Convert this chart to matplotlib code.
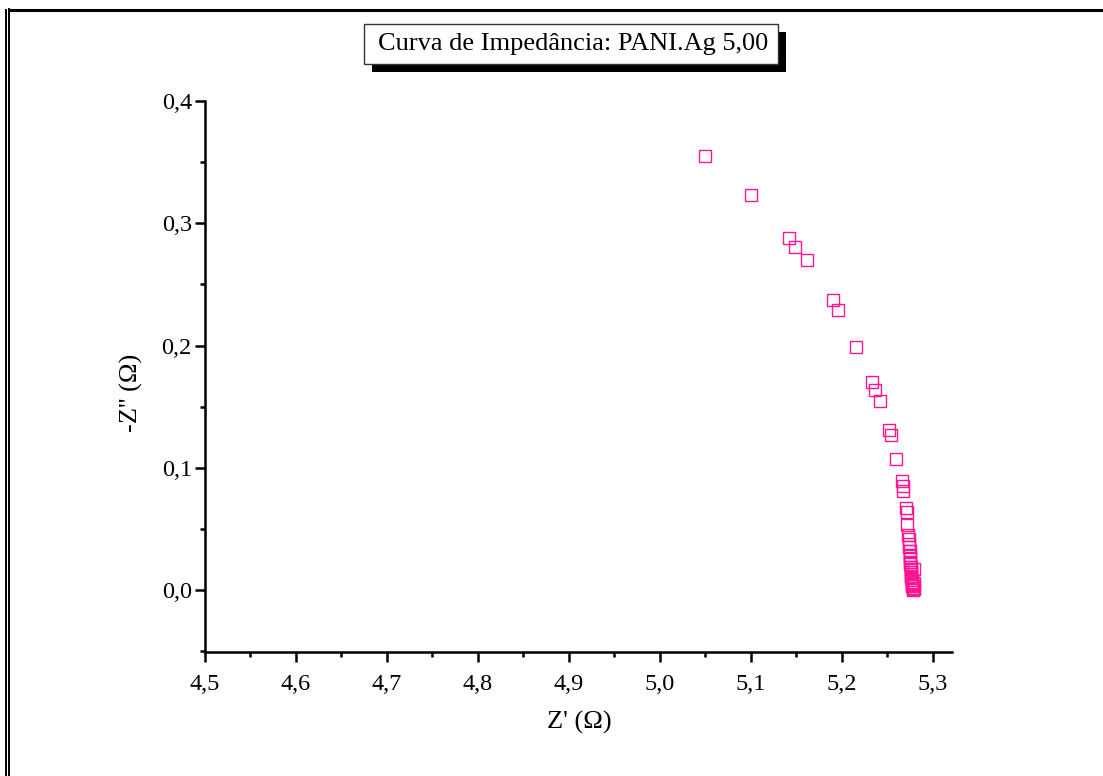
import matplotlib
matplotlib.use("Agg")
import matplotlib.pyplot as plt
from matplotlib.patches import Rectangle
from matplotlib.lines import Line2D
from matplotlib.ticker import MultipleLocator, FuncFormatter

plt.rcParams['font.family'] = ['Liberation Serif', 'DejaVu Serif']

# Impedance data: real part Z' and negative imaginary part -Z'' (ohm)
z_real = [5.049, 5.100, 5.142, 5.148, 5.162, 5.190, 5.196, 5.216, 5.233,
          5.236, 5.242, 5.252, 5.254, 5.260, 5.266, 5.267, 5.267, 5.270,
          5.271, 5.272, 5.273, 5.274, 5.274, 5.274, 5.275, 5.275, 5.275,
          5.275, 5.275, 5.276, 5.276, 5.279, 5.276, 5.276, 5.276, 5.276,
          5.277, 5.277, 5.279, 5.277, 5.277, 5.279, 5.277, 5.278, 5.279,
          5.278, 5.278]
z_imag = [0.355, 0.323, 0.288, 0.281, 0.270, 0.237, 0.229, 0.199, 0.170,
          0.164, 0.155, 0.131, 0.127, 0.107, 0.089, 0.085, 0.081, 0.067,
          0.064, 0.053, 0.045, 0.042, 0.038, 0.035, 0.032, 0.029, 0.026,
          0.023, 0.021, 0.019, 0.017, 0.017, 0.015, 0.013, 0.011, 0.010,
          0.008, 0.007, 0.006, 0.005, 0.004, 0.003, 0.003, 0.002, 0.001,
          0.001, 0.000]

x_ticks = [4.5, 4.6, 4.7, 4.8, 4.9, 5.0, 5.1, 5.2, 5.3]
y_ticks = [0.0, 0.1, 0.2, 0.3, 0.4]

title_text = "Curva de Impedância: PANI.Ag 5,00"
x_label = "Z' (Ω)"
y_label = "-Z'' (Ω)"

W, H = 1103, 776
fig = plt.figure(figsize=(W / 100, H / 100), dpi=100)
fig.patch.set_facecolor('white')

ax = fig.add_axes([205 / W, 1 - 652 / H, (952 - 205) / W, (652 - 101) / H])
ax.plot(z_real, z_imag, linestyle='none', marker='s', markersize=9.2,
        markerfacecolor='none', markeredgecolor='#ff1493', markeredgewidth=1.0)

ax.set_xlim(4.5, 5.321)
ax.set_ylim(-0.0506, 0.4)
ax.set_xticks(x_ticks)
ax.set_yticks(y_ticks)
ax.xaxis.set_minor_locator(MultipleLocator(0.05))
ax.yaxis.set_minor_locator(MultipleLocator(0.05))
comma = FuncFormatter(lambda v, p: f"{v:.1f}".replace('.', ','))
ax.xaxis.set_major_formatter(comma)
ax.yaxis.set_major_formatter(comma)

for s in ['top', 'right']:
    ax.spines[s].set_visible(False)
for s in ['left', 'bottom']:
    ax.spines[s].set_linewidth(1.8)
ax.tick_params(which='major', direction='out', length=7.5, width=1.8,
               labelsize=17.5)
ax.tick_params(which='minor', direction='out', length=3.8, width=1.8)
ax.tick_params(axis='x', which='major', pad=8)
ax.tick_params(axis='y', which='major', pad=2)

ax.set_xlabel(x_label, fontsize=19)
ax.set_ylabel(y_label, fontsize=19)
ax.xaxis.set_label_coords((579 - 205) / (952 - 205), -(722 - 652) / (652 - 101))
ax.yaxis.set_label_coords(-(205 - 131) / (952 - 205), (652 - 393) / (652 - 101))
ax.xaxis.label.set_va('center')
ax.yaxis.label.set_va('center')

# Title box with drop shadow (pixel coordinates)
def px_rect(x0, y0, x1, y1, **kw):
    return Rectangle((x0 / W, 1 - y1 / H), (x1 - x0) / W, (y1 - y0) / H,
                     transform=fig.transFigure, **kw)

fig.add_artist(px_rect(372, 32, 786, 72, facecolor='black', edgecolor='none'))
fig.add_artist(px_rect(364, 24, 778, 64, facecolor='white', edgecolor='#333333',
                       linewidth=1.0))
fig.text((364 + 778) / 2 / W + 2 / W, 1 - 44 / H, title_text, fontsize=19,
         ha='center', va='center')

# Page border: double line on the left, thick rule on top
def px_line(xs, ys, lw):
    fig.add_artist(Line2D([x / W for x in xs], [1 - y / H for y in ys],
                          transform=fig.transFigure, color='black',
                          linewidth=lw, solid_capstyle='butt'))

px_line([5.8, 5.8], [9, H], 1.4)
px_line([9.0, 9.0], [8, H], 1.4)
px_line([8, W], [9.5, 9.5], 2.2)

fig.savefig("out.png", dpi=100, facecolor='white')
